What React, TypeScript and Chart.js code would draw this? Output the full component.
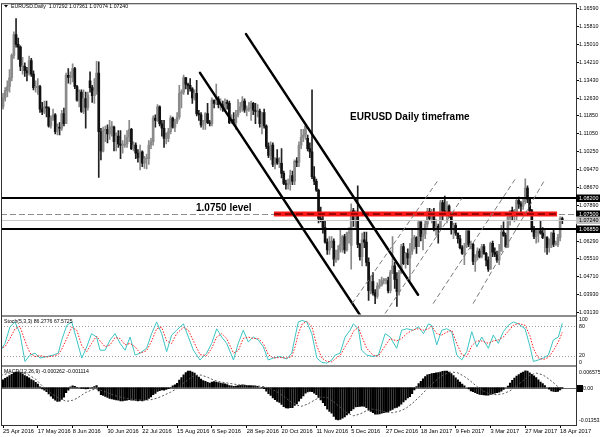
import React, { useEffect, useRef } from "react";
import { Chart, registerables } from "chart.js";

Chart.register(...registerables);

const FONT = "'Liberation Sans', Arial, sans-serif";

// ---- x axis (bar index) ----
const dateTickIndex = [0, 16, 32, 48, 64, 80, 96, 112, 128, 144, 160, 176, 192, 208, 224, 240, 256];
const dateTickLabels = [
  "25 Apr 2016", "17 May 2016", "8 Jun 2016", "30 Jun 2016", "22 Jul 2016", "15 Aug 2016",
  "6 Sep 2016", "28 Sep 2016", "20 Oct 2016", "11 Nov 2016", "5 Dec 2016", "27 Dec 2016",
  "18 Jan 2017", "9 Feb 2017", "3 Mar 2017", "27 Mar 2017", "18 Apr 2017",
];

// ---- price axis ticks ----
const priceTicks = [
  1.1659, 1.1581, 1.1501, 1.1421, 1.1343, 1.1263, 1.1185, 1.1105, 1.1025, 1.0947,
  1.0867, 1.0789, 1.0629, 1.0551, 1.0471, 1.0393, 1.0313,
];

// ---- EURUSD daily OHLC in pips (price x 10000), 25 Apr 2016 .. 19 Apr 2017 ----
const opens = [
  11225, 11265, 11297, 11315, 11354, 11453, 11545, 11502, 11490, 11404,
  11405, 11385, 11375, 11430, 11370, 11310, 11313, 11315, 11215, 11203,
  11225, 11220, 11140, 11177, 11190, 11115, 11135, 11130, 11195, 11150,
  11365, 11355, 11355, 11395, 11315, 11255, 11290, 11205, 11262, 11222,
  11340, 11310, 11275, 11295, 11375, 11115, 11030, 11120, 11125, 11105,
  11135, 11135, 11070, 11095, 11060, 11055, 11055, 11060, 11090, 11125,
  11040, 11055, 11020, 11000, 11025, 10975, 10995, 10995, 11055, 11070,
  11175, 11165, 11225, 11150, 11130, 11085, 11085, 11115, 11175, 11135,
  11160, 11180, 11285, 11290, 11355, 11325, 11320, 11305, 11265, 11285,
  11195, 11190, 11145, 11160, 11195, 11155, 11150, 11255, 11240, 11260,
  11235, 11235, 11220, 11245, 11240, 11155, 11170, 11155, 11190, 11210,
  11225, 11250, 11210, 11215, 11220, 11240, 11210, 11205, 11205, 11150,
  11200, 11140, 11050, 11010, 11055, 10970, 10995, 10975, 10975, 10930,
  10885, 10880, 10885, 10920, 10895, 10985, 10980, 11055, 11090, 11100,
  11085, 11040, 11025, 10915, 10895, 10855, 10730, 10720, 10690, 10625,
  10590, 10625, 10630, 10550, 10550, 10590, 10615, 10650, 10590, 10665,
  10610, 10765, 10720, 10755, 10615, 10560, 10635, 10625, 10535, 10410,
  10450, 10400, 10385, 10430, 10435, 10455, 10455, 10455, 10410, 10490,
  10520, 10460, 10405, 10490, 10605, 10530, 10575, 10555, 10585, 10640,
  10645, 10605, 10715, 10650, 10660, 10705, 10760, 10730, 10750, 10680,
  10695, 10690, 10800, 10765, 10760, 10785, 10750, 10685, 10700, 10665,
  10640, 10600, 10575, 10605, 10675, 10615, 10615, 10540, 10555, 10585,
  10560, 10605, 10575, 10545, 10505, 10620, 10580, 10570, 10545, 10585,
  10670, 10655, 10605, 10735, 10765, 10740, 10740, 10810, 10795, 10785,
  10805, 10865, 10815, 10765, 10680, 10650, 10665, 10675, 10665, 10645,
  10645, 10600, 10610, 10665, 10615, 10615, 10645, 10729.2,
];
const highs = [
  11285, 11310, 11340, 11390, 11460, 11558, 11616, 11530, 11495, 11445,
  11420, 11400, 11450, 11440, 11385, 11340, 11350, 11320, 11245, 11250,
  11250, 11225, 11185, 11215, 11195, 11150, 11155, 11210, 11220, 11375,
  11395, 11380, 11416, 11400, 11320, 11300, 11300, 11300, 11290, 11290,
  11380, 11320, 11350, 11427, 11425, 11130, 11135, 11140, 11145, 11165,
  11160, 11140, 11110, 11120, 11120, 11075, 11100, 11120, 11165, 11130,
  11070, 11065, 11035, 11055, 11030, 11005, 11015, 11075, 11085, 11185,
  11190, 11235, 11230, 11165, 11165, 11110, 11130, 11185, 11180, 11170,
  11200, 11320, 11300, 11366, 11355, 11330, 11350, 11310, 11300, 11342,
  11210, 11200, 11165, 11200, 11240, 11165, 11265, 11255, 11326, 11270,
  11260, 11250, 11260, 11255, 11250, 11190, 11200, 11210, 11257, 11245,
  11270, 11260, 11230, 11245, 11250, 11245, 11240, 11235, 11215, 11200,
  11215, 11145, 11065, 11070, 11065, 11000, 11035, 11000, 11040, 10940,
  10900, 10905, 10945, 10940, 10990, 11000, 11070, 11125, 11125, 11145,
  11100, 11065, 11300, 10960, 10905, 10860, 10780, 10740, 10720, 10640,
  10650, 10650, 10640, 10590, 10610, 10685, 10655, 10660, 10670, 10690,
  10795, 10775, 10765, 10875, 10620, 10665, 10670, 10670, 10555, 10475,
  10490, 10415, 10445, 10460, 10470, 10465, 10465, 10470, 10500, 10650,
  10535, 10490, 10500, 10615, 10620, 10580, 10595, 10620, 10685, 10655,
  10650, 10720, 10715, 10680, 10720, 10775, 10775, 10770, 10775, 10725,
  10705, 10810, 10810, 10829, 10805, 10790, 10750, 10710, 10710, 10665,
  10655, 10610, 10620, 10680, 10675, 10630, 10620, 10570, 10600, 10595,
  10615, 10615, 10580, 10560, 10625, 10630, 10600, 10585, 10615, 10700,
  10715, 10665, 10740, 10765, 10780, 10770, 10820, 10825, 10805, 10820,
  10906, 10875, 10820, 10770, 10695, 10680, 10680, 10720, 10690, 10680,
  10650, 10640, 10670, 10680, 10630, 10660, 10737, 10736.1,
];
const lows = [
  11215, 11250, 11270, 11290, 11340, 11440, 11490, 11435, 11385, 11370,
  11360, 11340, 11365, 11360, 11300, 11290, 11280, 11200, 11190, 11195,
  11180, 11135, 11130, 11165, 11105, 11100, 11100, 11120, 11140, 11150,
  11330, 11325, 11335, 11305, 11250, 11225, 11200, 11195, 11130, 11210,
  11290, 11245, 11240, 11280, 10912, 10990, 11025, 11070, 11065, 11080,
  11095, 11030, 11030, 11045, 10995, 11020, 11045, 11045, 11070, 11035,
  11030, 10995, 10980, 10945, 10960, 10952, 10950, 10970, 11040, 11055,
  11135, 11160, 11140, 11095, 11045, 11060, 11070, 11105, 11130, 11115,
  11150, 11170, 11220, 11280, 11305, 11280, 11295, 11240, 11255, 11185,
  11165, 11135, 11125, 11125, 11150, 11140, 11140, 11220, 11235, 11220,
  11210, 11205, 11210, 11215, 11150, 11150, 11145, 11125, 11180, 11200,
  11205, 11200, 11185, 11205, 11165, 11190, 11150, 11180, 11135, 11105,
  11130, 11040, 11000, 10990, 10960, 10950, 10970, 10955, 10910, 10880,
  10860, 10860, 10855, 10880, 10880, 10960, 10960, 11040, 11070, 11080,
  11030, 11000, 10906, 10880, 10850, 10710, 10715, 10665, 10620, 10570,
  10570, 10600, 10520, 10535, 10545, 10580, 10580, 10575, 10585, 10620,
  10505, 10695, 10690, 10600, 10545, 10520, 10600, 10520, 10367, 10395,
  10390, 10352, 10375, 10420, 10430, 10440, 10440, 10400, 10400, 10485,
  10420, 10340, 10390, 10485, 10525, 10510, 10525, 10455, 10570, 10595,
  10575, 10605, 10630, 10590, 10640, 10690, 10720, 10710, 10675, 10655,
  10620, 10690, 10725, 10755, 10710, 10735, 10660, 10640, 10655, 10620,
  10595, 10570, 10525, 10600, 10605, 10595, 10525, 10495, 10545, 10555,
  10555, 10570, 10520, 10495, 10505, 10560, 10560, 10535, 10525, 10585,
  10650, 10600, 10600, 10700, 10720, 10715, 10725, 10775, 10760, 10770,
  10795, 10800, 10745, 10670, 10640, 10620, 10625, 10660, 10640, 10580,
  10570, 10580, 10600, 10605, 10610, 10605, 10630, 10707.4,
];
const closes = [
  11265, 11297, 11315, 11354, 11453, 11545, 11502, 11490, 11404, 11405,
  11385, 11375, 11430, 11370, 11310, 11313, 11315, 11215, 11203, 11225,
  11220, 11140, 11177, 11190, 11115, 11135, 11130, 11195, 11150, 11365,
  11355, 11355, 11395, 11315, 11255, 11290, 11205, 11262, 11222, 11277,
  11310, 11275, 11295, 11375, 11115, 11030, 11120, 11125, 11105, 11135,
  11135, 11070, 11095, 11060, 11055, 11055, 11060, 11090, 11125, 11040,
  11055, 11020, 11000, 11025, 10975, 10995, 10995, 11055, 11070, 11175,
  11165, 11225, 11150, 11130, 11085, 11085, 11115, 11175, 11135, 11160,
  11180, 11285, 11290, 11355, 11325, 11320, 11305, 11265, 11285, 11195,
  11190, 11145, 11160, 11195, 11155, 11150, 11255, 11240, 11260, 11235,
  11235, 11220, 11245, 11240, 11155, 11170, 11155, 11190, 11210, 11225,
  11250, 11210, 11215, 11220, 11240, 11210, 11205, 11205, 11150, 11200,
  11140, 11050, 11010, 11055, 10970, 10995, 10975, 10975, 10930, 10885,
  10880, 10885, 10920, 10895, 10985, 10980, 11055, 11090, 11100, 11140,
  11040, 11025, 10915, 10895, 10855, 10730, 10720, 10690, 10625, 10590,
  10625, 10630, 10550, 10550, 10590, 10615, 10650, 10590, 10665, 10665,
  10765, 10720, 10755, 10615, 10560, 10635, 10625, 10535, 10410, 10450,
  10400, 10385, 10430, 10435, 10455, 10455, 10455, 10410, 10490, 10520,
  10460, 10405, 10490, 10605, 10530, 10575, 10555, 10585, 10640, 10645,
  10605, 10715, 10650, 10660, 10705, 10760, 10730, 10750, 10680, 10695,
  10690, 10800, 10765, 10760, 10785, 10750, 10685, 10700, 10665, 10640,
  10600, 10575, 10605, 10675, 10615, 10615, 10540, 10555, 10585, 10560,
  10605, 10575, 10545, 10505, 10620, 10580, 10570, 10545, 10585, 10670,
  10655, 10605, 10735, 10765, 10740, 10740, 10810, 10795, 10785, 10800,
  10865, 10815, 10765, 10680, 10650, 10665, 10675, 10665, 10645, 10645,
  10600, 10610, 10665, 10615, 10615, 10645, 10730, 10724.0,
];

// ---- Stochastic (5,3,3): read points (bar index, value) ----
const stochIdx = [
  -1.4, 0.9, 3.2, 5.5, 7.8, 10.1, 12.4, 14.7, 17.0, 20.1,
  23.1, 25.4, 27.0, 29.3, 31.6, 33.9, 36.2, 38.5, 40.7, 43.0,
  44.6, 46.9, 49.2, 51.5, 53.8, 56.1, 58.4, 60.7, 63.0, 66.0,
  68.3, 70.6, 72.9, 75.2, 77.5, 79.8, 82.9, 85.2, 87.5, 90.5,
  93.6, 95.9, 98.2, 100.5, 102.8, 105.9, 108.1, 110.4, 112.7, 115.0,
  117.3, 119.6, 121.9, 124.2, 127.3, 130.4, 132.7, 134.2, 135.7, 137.5,
  139.6, 141.9, 144.2, 146.5, 148.8, 151.1, 152.6, 154.9, 157.2, 159.5,
  161.0, 163.3, 164.8, 167.1, 170.2, 172.5, 175.6, 177.9, 180.9, 183.2,
  185.5, 188.6, 190.9, 193.2, 195.5, 197.0, 199.3, 201.6, 203.9, 206.2,
  208.5, 210.8, 213.1, 215.4, 217.7, 220.0, 223.0, 225.3, 227.6, 229.9,
  232.2, 234.5, 236.8, 239.9, 242.2, 243.7, 246.0, 248.3, 250.6, 252.9,
  255.2, 257,
];
const stochK = [
  28, 45, 79, 89, 65, 8, 21, 25, 15, 18,
  21, 25, 52, 82, 89, 52, 15, 38, 65, 58,
  31, 31, 52, 65, 45, 31, 58, 21, 25, 35,
  65, 89, 65, 28, 62, 72, 85, 58, 31, 11,
  25, 45, 75, 58, 45, 11, 45, 72, 48, 58,
  52, 38, 11, 15, 18, 13, 25, 58, 89, 92,
  89, 65, 15, 6, 4.5, 11, 21, 25, 58, 72,
  85, 75, 31, 21, 18, 21, 65, 58, 35, 72,
  75, 72, 79, 65, 85, 82, 42, 72, 75, 69,
  21, 11, 28, 69, 38, 58, 35, 62, 45, 69,
  82, 89, 85, 75, 38, 8, 11, 15, 21, 52,
  58, 86.3,
];
const stochD = [
  35, 38, 55, 75, 80, 50, 25, 18, 20, 17,
  19, 22, 33, 55, 78, 72, 40, 28, 45, 60,
  50, 38, 42, 57, 55, 42, 45, 38, 25, 30,
  50, 75, 78, 50, 45, 65, 78, 72, 50, 22,
  20, 35, 58, 65, 55, 25, 30, 55, 58, 55,
  55, 45, 22, 15, 16, 15, 18, 38, 65, 85,
  90, 80, 40, 15, 8, 7, 13, 20, 38, 55,
  70, 78, 60, 35, 20, 19, 40, 55, 50, 55,
  65, 73, 75, 72, 75, 80, 65, 62, 68, 72,
  45, 22, 18, 40, 50, 50, 45, 50, 52, 58,
  70, 82, 86, 82, 60, 35, 15, 12, 16, 30,
  48, 67.6,
];
const stochLevels = [20, 80];

// ---- MACD (12,26,9) histogram per bar, in thousandths ----
const macdMain = [
  2.8, 3.3, 3.8, 4.3, 4.8, 5.3, 5.6, 5.6, 5.4, 4.9,
  4.3, 3.9, 3.5, 2.9, 2.5, 1.9, 1.2, 0.2, -0.5, -1.0,
  -1.5, -2.3, -3.1, -3.9, -4.6, -5.0, -4.9, -4.3, -3.5, -1.9,
  -1.0, 0.2, 0.6, 0.4, 0.1, 0.0, -0.3, -0.3, -0.5, -0.4,
  0.0, 0.1, 0.3, 0.7, -1.2, -2.6, -2.9, -3.2, -3.6, -3.9,
  -4.1, -4.3, -4.5, -4.6, -4.8, -4.8, -4.7, -4.6, -4.4, -4.6,
  -4.6, -4.7, -4.8, -4.7, -4.8, -4.6, -4.4, -3.9, -3.4, -2.6,
  -2.1, -1.4, -1.1, -0.9, -1.0, -0.7, -0.4, 0.1, 0.6, 1.0,
  1.5, 2.7, 3.6, 4.6, 5.4, 5.9, 5.9, 5.6, 5.2, 4.4,
  3.8, 3.0, 2.5, 2.2, 1.9, 1.6, 2.0, 2.1, 2.0, 1.8,
  1.6, 1.4, 1.3, 1.1, 0.7, 0.6, 0.4, 0.5, 0.7, 0.8,
  1.0, 0.9, 0.8, 0.7, 0.7, 0.6, 0.5, 0.4, 0.0, 0.1,
  -0.4, -1.3, -2.2, -2.9, -3.8, -4.4, -5.0, -5.4, -6.1, -6.9,
  -7.4, -7.5, -7.3, -7.3, -6.5, -5.9, -4.9, -3.9, -3.0, -2.0,
  -1.6, -1.4, -1.5, -2.0, -2.6, -3.6, -4.5, -5.5, -6.6, -7.8,
  -8.6, -9.3, -10.4, -11.5, -11.7, -11.5, -11.1, -10.6, -9.9, -9.3,
  -8.4, -7.7, -7.0, -6.9, -6.8, -6.7, -6.8, -7.3, -8.1, -8.6,
  -9.1, -9.6, -9.6, -9.5, -9.3, -9.1, -8.9, -8.7, -8.3, -7.9,
  -7.4, -7.2, -6.7, -6.0, -5.2, -4.5, -3.8, -3.3, -2.2, -0.9,
  0.3, 1.4, 2.2, 3.1, 3.9, 4.6, 4.8, 5.0, 5.1, 5.3,
  5.4, 5.6, 5.8, 5.9, 5.9, 5.6, 5.0, 4.3, 3.5, 2.8,
  2.0, 1.2, 0.6, 0.0, -0.5, -1.2, -1.5, -1.9, -2.2, -2.5,
  -2.6, -2.7, -2.8, -2.8, -2.5, -2.3, -2.0, -1.9, -1.7, -1.3,
  -0.7, 0.0, 0.5, 1.6, 2.6, 3.4, 4.1, 4.7, 5.2, 5.6,
  6.0, 5.9, 5.3, 4.8, 4.2, 3.6, 2.8, 2.0, 1.4, 0.7,
  0.0, -0.6, -1.2, -1.4, -1.5, -1.4, -0.9, -0.26,
];
// signal line read points (bar index, thousandths)
const macdSigIdx = [
  -1, 4, 8, 12, 15, 18.5, 22, 25, 29, 32, 34, 38, 41, 43, 46, 49, 53, 57, 61, 65,
  68, 71, 74, 77, 80, 83, 86, 88, 91, 94, 97, 100, 104, 108, 112, 116, 120, 123, 126, 129,
  132, 135, 137, 140, 143, 146, 149, 152, 155, 158, 161, 164, 167, 170, 173, 176, 179, 182, 185, 188,
  191, 194, 197, 200, 203, 206, 209, 212, 215, 218, 221, 224, 227, 230, 233, 236, 239, 242, 245, 248,
  251, 254, 257,
];
const macdSig = [
  4.4, 5.4, 5.6, 4.5, 3.0, 0.2, -2.0, -3.6, -5.0, -4.6, -3.9, -1.8, -0.8, -0.6, -1.2, -2.2, -3.3, -4.0, -4.4, -4.6,
  -4.4, -3.8, -2.8, -1.7, -0.3, 1.6, 3.4, 4.4, 4.5, 3.7, 2.6, 2.0, 1.5, 1.0, 0.7, 0.6, 0.3, -0.4, -1.6, -3.2,
  -5.0, -6.3, -6.8, -6.0, -4.6, -3.4, -3.6, -5.2, -7.2, -9.1, -10.2, -9.6, -8.4, -7.8, -8.3, -8.9, -9.1, -8.6, -7.6, -5.8,
  -3.6, -1.2, 1.2, 3.3, 4.8, 5.6, 5.3, 4.0, 2.2, 0.2, -1.4, -2.4, -2.6, -2.2, -1.2, 0.5, 2.5, 4.4, 5.2, 4.6,
  3.0, 1.0, -1.1,
];
const macdAxisMax = 0.006575;
const macdAxisMin = -0.013532;

// ---- drawn objects (bar index, price) ----
const resistanceLevel = 1.082;
const supportLevel = 1.0685;
const keyLevel = 1.075;
const bidPrice = 1.0724;
const keyBand = [124.5, 254.6];
const trendLines = [
  [90.53, 1.13756, 166, 1.0273],
  [111.67, 1.15476, 190.72, 1.03919],
];
const channelLines = [
  [160.39, 1.03522, 199.91, 1.08992],
  [175.55, 1.03081, 210.94, 1.08198],
  [197.61, 1.03522, 235.29, 1.09036],
  [215.99, 1.03522, 249.08, 1.09036],
];
const titleText = { idx: 159.5, price: 1.11771, text: "EURUSD Daily timeframe" };
const levelText = { idx: 88.7, price: 1.07757, text: "1.0750 level" };

const mt4Plugin = {
  id: "mt4",
  beforeDatasetsDraw(chart: any) {
    const { ctx, chartArea: ca, scales } = chart;
    const ys = scales.yStoch, yq = scales.yMacd;
    ctx.save();
    ctx.lineWidth = 1;
    ctx.strokeStyle = "#9a9a9a";
    ctx.setLineDash([1, 2]);
    for (const lv of stochLevels) {
      const y = Math.round(ys.getPixelForValue(lv)) + 0.5;
      ctx.beginPath(); ctx.moveTo(ca.left, y); ctx.lineTo(ca.right, y); ctx.stroke();
    }
    ctx.setLineDash([]);
    ctx.strokeStyle = "#666";
    const y0 = Math.round(yq.getPixelForValue(0)) + 0.5;
    ctx.beginPath(); ctx.moveTo(ca.left, y0); ctx.lineTo(ca.right, y0); ctx.stroke();
    ctx.restore();
  },
  afterDatasetsDraw(chart: any) {
    const { ctx, chartArea: ca, scales } = chart;
    const xs = scales.x, ym = scales.yMain;
    const X = (v: number) => xs.getPixelForValue(v);
    const Y = (v: number) => ym.getPixelForValue(v);
    ctx.save();
    ctx.beginPath();
    ctx.rect(ca.left, ym.top, ca.right - ca.left, ym.bottom - ym.top - 1);
    ctx.clip();

    // bid line
    ctx.strokeStyle = "#c8c8c8"; ctx.lineWidth = 1;
    let y = Math.round(Y(bidPrice)) + 0.5;
    ctx.beginPath(); ctx.moveTo(ca.left, y); ctx.lineTo(ca.right, y); ctx.stroke();

    // support / resistance
    ctx.strokeStyle = "#000"; ctx.lineWidth = 2;
    for (const lv of [resistanceLevel, supportLevel]) {
      y = Math.round(Y(lv));
      ctx.beginPath(); ctx.moveTo(ca.left, y); ctx.lineTo(ca.right, y); ctx.stroke();
    }

    // 1.0750 dashed line + red band
    const yk = Math.round(Y(keyLevel)) + 0.5;
    ctx.strokeStyle = "#8c8c8c"; ctx.lineWidth = 1; ctx.setLineDash([6, 3]);
    ctx.beginPath(); ctx.moveTo(ca.left, yk); ctx.lineTo(ca.right, yk); ctx.stroke();
    ctx.setLineDash([]);
    const bx0 = X(keyBand[0]), bx1 = X(keyBand[1]);
    ctx.fillStyle = "#ff1a1a";
    ctx.fillRect(bx0, yk - 3, bx1 - bx0, 5);
    ctx.strokeStyle = "#7a0000"; ctx.lineWidth = 1.5; ctx.setLineDash([7, 4]);
    ctx.beginPath(); ctx.moveTo(bx0, yk - 0.5); ctx.lineTo(bx1, yk - 0.5); ctx.stroke();
    ctx.setLineDash([]);

    // trend lines
    ctx.strokeStyle = "#000"; ctx.lineWidth = 2.5; ctx.lineCap = "round";
    for (const [a, p, b, q] of trendLines) {
      ctx.beginPath(); ctx.moveTo(X(a), Y(p)); ctx.lineTo(X(b), Y(q)); ctx.stroke();
    }
    // channel lines
    ctx.strokeStyle = "#7a7a7a"; ctx.lineWidth = 1; ctx.lineCap = "butt"; ctx.setLineDash([5, 3]);
    for (const [a, p, b, q] of channelLines) {
      ctx.beginPath(); ctx.moveTo(X(a), Y(p)); ctx.lineTo(X(b), Y(q)); ctx.stroke();
    }
    ctx.setLineDash([]);

    // texts
    ctx.fillStyle = "#000";
    ctx.font = `bold 10px ${FONT}`;
    ctx.textBaseline = "middle"; ctx.textAlign = "left";
    ctx.fillText(titleText.text, X(titleText.idx), Y(titleText.price));
    ctx.fillText(levelText.text, X(levelText.idx), Y(levelText.price));
    ctx.restore();
  },
  afterDraw(chart: any) {
    const { ctx, chartArea: ca, scales } = chart;
    const ym = scales.yMain, ys = scales.yStoch, yq = scales.yMacd;
    ctx.save();
    // panel separators
    ctx.fillStyle = "#8c8c8c";
    ctx.fillRect(ca.left, Math.round(ym.bottom) - 1, ca.right - ca.left, 2);
    ctx.fillRect(ca.left, Math.round(ys.bottom) - 1, ca.right - ca.left, 2);
    // frame
    ctx.strokeStyle = "#333"; ctx.lineWidth = 1;
    ctx.strokeRect(ca.left + 0.5, ca.top + 0.5, ca.right - ca.left, ca.bottom - ca.top);

    // header
    ctx.fillStyle = "#000";
    ctx.beginPath(); ctx.moveTo(4, 5); ctx.lineTo(8, 5); ctx.lineTo(6, 7.5); ctx.closePath(); ctx.fill();
    const n = closes.length - 1;
    const f = (v: number) => (v / 10000).toFixed(5);
    ctx.font = `5.2px ${FONT}`;
    ctx.textBaseline = "middle"; ctx.textAlign = "left";
    ctx.fillText(`EURUSD.Daily  ${f(opens[n])} ${f(highs[n])} ${f(lows[n])} ${f(closes[n])}`, 11, 6.5);
    ctx.fillText("Stoch(5,3,3) 86.2776 67.5725", 4, ys.top + 6);
    ctx.fillText("MACD(12,26,9) -0.000262 -0.001114", 4, yq.top + 5);

    // stoch axis labels
    const ax = ca.right + 3;
    ctx.fillText("100", ax, ys.getPixelForValue(100) + 3);
    ctx.fillText("80", ax, ys.getPixelForValue(80));
    ctx.fillText("20", ax, ys.getPixelForValue(20));
    ctx.fillText("0", ax, ys.getPixelForValue(0) - 3);
    // macd axis labels
    ctx.fillText(macdAxisMax.toFixed(6), ax, yq.getPixelForValue(macdAxisMax) + 3);
    ctx.fillText(macdAxisMin.toFixed(6), ax, yq.getPixelForValue(macdAxisMin) - 4);
    const z = Math.round(yq.getPixelForValue(0));
    ctx.fillStyle = "#000";
    ctx.fillRect(ca.right + 1, z - 3, 6, 7);
    ctx.fillText("0.00", ax + 4, z + 0.5);

    // price boxes
    const box = (price: number, bg: string, fg: string) => {
      const yy = Math.round(ym.getPixelForValue(price));
      ctx.fillStyle = bg;
      ctx.fillRect(ca.right, yy - 3.5, 24, 7.5);
      ctx.fillStyle = fg;
      ctx.font = `5.4px ${FONT}`;
      ctx.fillText(price.toFixed(5), ca.right + 3, yy + 0.3);
    };
    box(resistanceLevel, "#000", "#fff");
    box(keyLevel, "#000", "#fff");
    box(bidPrice, "#c0c0c0", "#000");
    box(supportLevel, "#000", "#fff");
    ctx.restore();
  },
};

export default function App() {
  const ref = useRef<HTMLCanvasElement>(null);
  useEffect(() => {
    const canvas = ref.current as HTMLCanvasElement;
    const bull = (i: number) => closes[i] >= opens[i];
    const bodyData = opens.map((o, i) => ({ x: i, y: [o / 10000, closes[i] / 10000] }));
    const wickData = lows.map((l, i) => ({ x: i, y: [l / 10000, highs[i] / 10000] }));
    const bodyColors = opens.map((_, i) => (bull(i) ? "#8a8a8a" : "#111111"));
    const wickColors = opens.map((_, i) => (bull(i) ? "#8a8a8a" : "#222222"));

    const chart = new Chart(canvas, {
      type: "bar",
      data: {
        datasets: [
          {
            type: "bar", data: bodyData as any, xAxisID: "x", yAxisID: "yMain",
            backgroundColor: bodyColors, barThickness: 2, minBarLength: 1, grouped: false,
          } as any,
          {
            type: "bar", data: wickData as any, xAxisID: "x", yAxisID: "yMain",
            backgroundColor: wickColors, barThickness: 1, grouped: false,
          } as any,
          {
            type: "line", data: stochD.map((v, i) => ({ x: stochIdx[i], y: v })), xAxisID: "x", yAxisID: "yStoch",
            borderColor: "#ff2020", borderWidth: 1, borderDash: [1.5, 1.5], pointRadius: 0, tension: 0,
          } as any,
          {
            type: "line", data: stochK.map((v, i) => ({ x: stochIdx[i], y: v })), xAxisID: "x", yAxisID: "yStoch",
            borderColor: "#3cc4c4", borderWidth: 1, pointRadius: 0, tension: 0,
          } as any,
          {
            type: "line", data: macdSig.map((v, i) => ({ x: macdSigIdx[i], y: v / 1000 })), xAxisID: "x", yAxisID: "yMacd",
            borderColor: "#555", borderWidth: 1, borderDash: [2, 2], pointRadius: 0, tension: 0,
          } as any,
          {
            type: "bar", data: macdMain.map((v, i) => ({ x: i, y: v / 1000 })), xAxisID: "x", yAxisID: "yMacd",
            backgroundColor: "#000", barThickness: 1.5, grouped: false,
          } as any,
        ],
      },
      options: {
        animation: false,
        responsive: true,
        maintainAspectRatio: false,
        devicePixelRatio: 1,
        layout: { padding: { top: 1, left: 1, right: 0, bottom: 0 } },
        plugins: { legend: { display: false }, tooltip: { enabled: false } },
        scales: {
          x: {
            type: "linear", position: "bottom", min: -0.92, max: 263.3, offset: false, bounds: "data",
            afterBuildTicks: (s: any) => { s.ticks = dateTickIndex.map((v) => ({ value: v })); },
            afterFit: (s: any) => { s.height = 12; },
            ticks: {
              callback: (v: any) => dateTickLabels[dateTickIndex.indexOf(Number(v))] ?? "",
              align: "start", maxRotation: 0, minRotation: 0, autoSkip: false, padding: 0,
              color: "#000", font: { size: 5.7, family: FONT },
            },
            grid: { drawOnChartArea: false, drawTicks: true, tickLength: 3, color: "#000", offset: false },
            border: { display: false },
          },
          yMain: {
            type: "linear", position: "right", stack: "panes", stackWeight: 314,
            min: 1.02993, max: 1.16844, bounds: "data",
            afterBuildTicks: (s: any) => { s.ticks = priceTicks.map((v) => ({ value: v })); },
            afterFit: (s: any) => { s.width = 24; },
            ticks: {
              callback: (v: any) => Number(v).toFixed(5), autoSkip: false, padding: 0,
              color: "#000", font: { size: 5.4, family: FONT },
            },
            grid: { drawOnChartArea: false, drawTicks: true, tickLength: 3, color: "#000" },
            border: { display: false },
          },
          yStoch: {
            type: "linear", position: "right", stack: "panes", stackWeight: 51,
            min: -2, max: 102, bounds: "data",
            afterFit: (s: any) => { s.width = 24; },
            ticks: { display: false }, grid: { display: false }, border: { display: false },
          },
          yMacd: {
            type: "linear", position: "right", stack: "panes", stackWeight: 59,
            min: macdAxisMin, max: 0.00765, bounds: "data",
            afterFit: (s: any) => { s.width = 24; },
            ticks: { display: false }, grid: { display: false }, border: { display: false },
          },
        },
      } as any,
      plugins: [mt4Plugin],
    });
    return () => chart.destroy();
  }, []);

  return (
    <div style={{ position: "fixed", left: 0, top: 0, width: 600, height: 437, background: "#fff" }}>
      <canvas ref={ref} />
    </div>
  );
}
